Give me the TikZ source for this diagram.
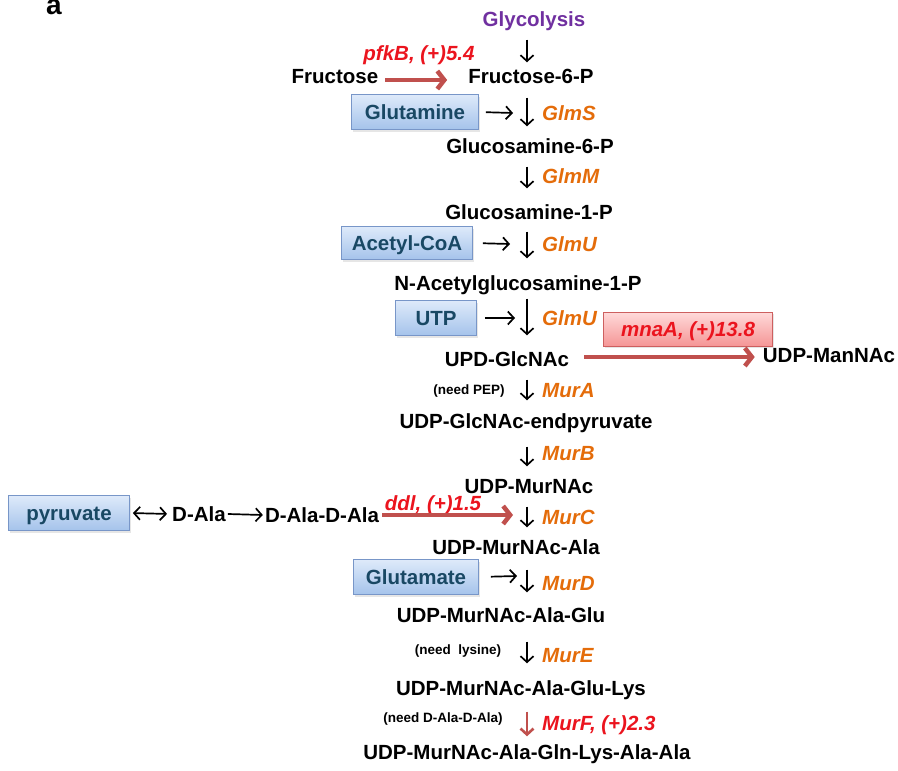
\documentclass[tikz,border=0pt]{standalone}
\usepackage{fontspec}
\setmainfont{Liberation Sans}
\usetikzlibrary{arrows.meta,shadows}
\definecolor{glypurple}{RGB}{112,48,160}
\definecolor{enzorange}{RGB}{228,108,10}
\definecolor{hitred}{RGB}{235,20,30}
\definecolor{arrred}{RGB}{192,80,77}
\definecolor{boxtext}{RGB}{25,72,100}
\definecolor{boxedge}{RGB}{120,150,200}
\definecolor{boxtop}{RGB}{222,234,250}
\definecolor{boxbot}{RGB}{165,195,235}
\definecolor{pinktop}{RGB}{255,218,218}
\definecolor{pinkbot}{RGB}{245,150,150}
\definecolor{pinkedge}{RGB}{205,95,95}
\begin{document}
\begin{tikzpicture}[x=1pt, y=-1pt,
  every node/.style={inner sep=2pt, font=\fontsize{20.5}{24}\selectfont\bfseries,
    text height=14.5pt, text depth=0.5pt},
  enz/.style={anchor=west, text=enzorange, font=\fontsize{20.5}{24}\selectfont\bfseries\itshape},
  hit/.style={text=hitred, font=\fontsize{20.5}{24}\selectfont\bfseries\itshape},
  note/.style={font=\fontsize{13.5}{16}\selectfont\bfseries, text height=10pt},
  inbox/.style={draw=boxedge, line width=0.8pt, top color=boxtop, bottom color=boxbot,
    text=boxtext, minimum height=35pt,
    drop shadow={opacity=0.2, shadow xshift=1.5pt, shadow yshift=-2pt}},
  arr/.style={line width=1.7pt, -{Straight Barb[length=6pt,width=13pt]}},
  redarr/.style={draw=arrred, line width=4.5pt, -{Straight Barb[length=7pt,width=18pt]}}
]
\useasboundingbox (0,0) rectangle (898,771);
\node[font=\fontsize{28}{30}\selectfont\bfseries, anchor=base] (panel) at (54,15) {a};

% main pathway
\node[text=glypurple] (glyco) at (534,20) {Glycolysis};
\node (fru) at (335,76) {Fructose};
\node (f6p) at (531,76) {Fructose-6-P};
\node (gln6p) at (530,146) {Glucosamine-6-P};
\node (glc1p) at (529,212) {Glucosamine-1-P};
\node (nag1p) at (518,283) {N-Acetylglucosamine-1-P};
\node (udpglc) at (507,359) {UPD-GlcNAc};
\node (manac) at (829,355) {UDP-ManNAc};
\node (endpyr) at (526,421) {UDP-GlcNAc-endpyruvate};
\node (murnac) at (529,486) {UDP-MurNAc};
\node (ala) at (516,547) {UDP-MurNAc-Ala};
\node (glu) at (501,615) {UDP-MurNAc-Ala-Glu};
\node (lys) at (521,688) {UDP-MurNAc-Ala-Glu-Lys};
\node (final) at (527,752) {UDP-MurNAc-Ala-Gln-Lys-Ala-Ala};
\node (dala) at (199,514) {D-Ala};
\node (dadala) at (322,515) {D-Ala-D-Ala};

% substrate boxes
\node[inbox, minimum width=127pt] (glnbox) at (415,112) {Glutamine};
\node[inbox, minimum width=131pt, minimum height=33pt] (accbox) at (407,243) {Acetyl-CoA};
\node[inbox, minimum width=81pt] (utpbox) at (436,318) {UTP};
\node[inbox, minimum width=121pt] (pyrbox) at (69,513) {pyruvate};
\node[inbox, minimum width=125pt] (glubox) at (416,577) {Glutamate};
\node[hit, draw=pinkedge, line width=0.8pt, top color=pinktop, bottom color=pinkbot,
  minimum width=169pt, minimum height=34pt,
  drop shadow={opacity=0.2, shadow xshift=1.5pt, shadow yshift=-2pt}] (mnabox) at (688,329) {mnaA, (+)13.8};

% enzymes and notes
\node[enz] (glms) at (540,113) {GlmS};
\node[enz] (glmm) at (540,176) {GlmM};
\node[enz] (glmu1) at (540,244) {GlmU};
\node[enz] (glmu2) at (540,318) {GlmU};
\node[enz] (mura) at (540,390) {MurA};
\node[enz] (murb) at (540,453) {MurB};
\node[enz] (murc) at (540,517) {MurC};
\node[enz] (murd) at (540,583) {MurD};
\node[enz] (mure) at (540,655) {MurE};
\node[hit, anchor=west] (murf) at (540,723) {MurF, (+)2.3};
\node[hit] (pfkb) at (419,53) {pfkB, (+)5.4};
\node[hit] (ddl) at (433,503) {ddl, (+)1.5};
\node[note] (needpep) at (469,390) {(need PEP)};
\node[note] (needlys) at (458,650) {(need~~lysine)};
\node[note] (needdd) at (443,718) {(need D-Ala-D-Ala)};

% arrow ends
\coordinate (ax) at (527,0);
\coordinate (glnin) at (513,113);
\coordinate (accin) at (510,244);
\coordinate (utpin) at (515,318);
\coordinate (gluin) at (517,576);
\coordinate (ddlin) at (513,515);

\foreach \a/\b/\s/\e in {glyco/f6p/10/4, f6p/gln6p/12/10, gln6p/glc1p/11/14,
    glc1p/nag1p/10/15, nag1p/udpglc/6/14, udpglc/endpyr/11/11, endpyr/murnac/16/10,
    murnac/ala/11/10, ala/glu/13/13, glu/lys/17/15}
  \draw[arr, shorten <=\s pt, shorten >=\e pt] (ax |- \a.south) -- (ax |- \b.north);
\draw[arr, draw=arrred, line width=2.6pt, shorten <=14pt, shorten >=6pt] (ax |- lys.south) -- (ax |- final.north);

\draw[arr, shorten <=7pt] (glnbox.east) -- (glnin);
\draw[arr, shorten <=10pt] (accbox.east) -- (accin);
\draw[arr, shorten <=8pt] (utpbox.east) -- (utpin);
\draw[arr, shorten <=12pt] (glubox.east) -- (gluin);
\draw[arr, {Straight Barb[length=6pt,width=13pt]}-{Straight Barb[length=6pt,width=13pt]},
  shorten <=3pt, shorten >=3pt] (pyrbox.east) -- (dala.west);
\draw[arr] (dala.east) -- (dadala.west);

\draw[redarr, shorten <=5pt, shorten >=19pt] ([yshift=-4pt]fru.east) -- ([yshift=-4pt]f6p.west);
\draw[redarr, shorten <=13pt, shorten >=6pt] ([yshift=2pt]udpglc.east) -- ([yshift=2pt]udpglc.east -| manac.west);
\draw[redarr, shorten <=1pt] (dadala.east) -- (ddlin);
\end{tikzpicture}
\end{document}
